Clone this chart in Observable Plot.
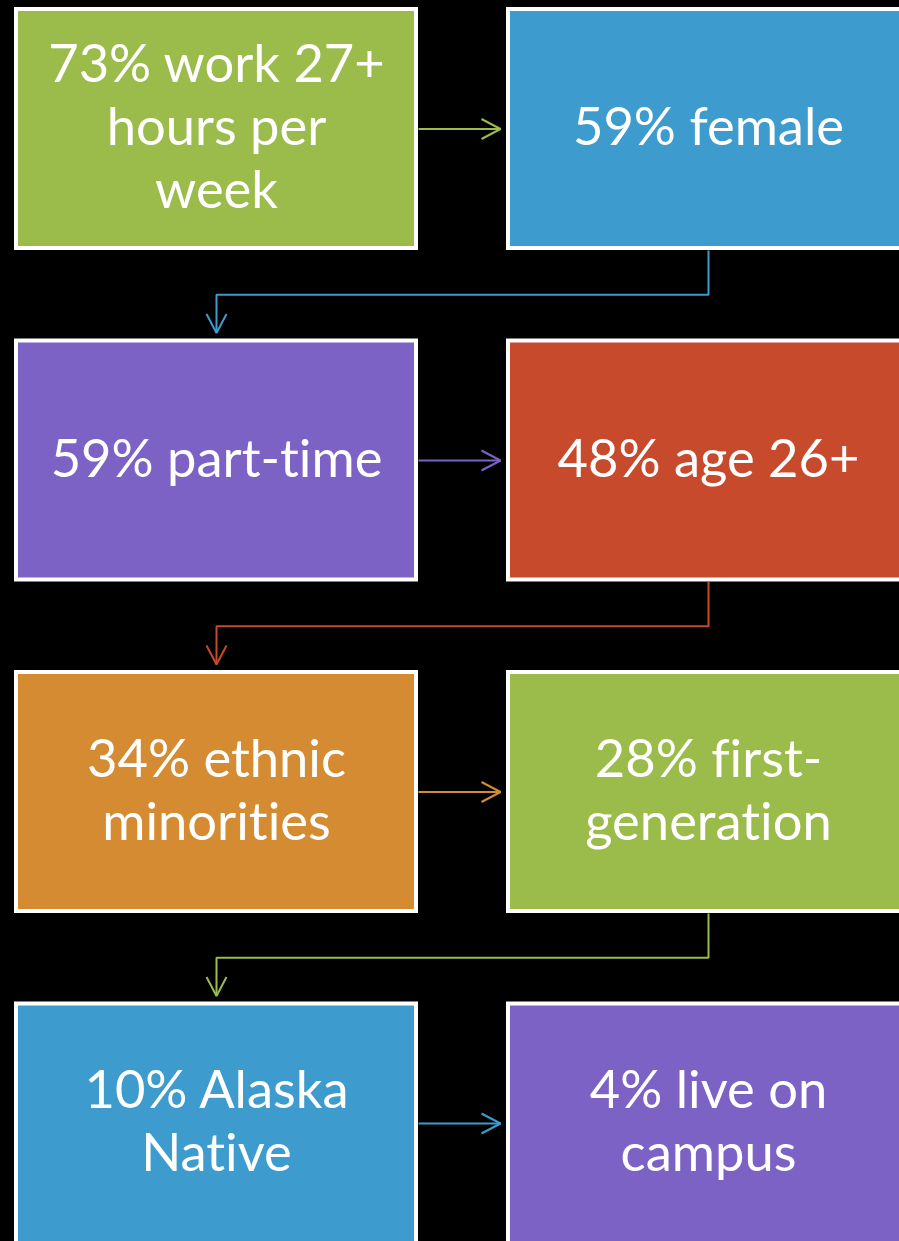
<!DOCTYPE html>
<html>
<head>
<meta charset="utf-8">
<script src="https://cdn.jsdelivr.net/npm/d3@7"></script>
<script src="https://cdn.jsdelivr.net/npm/@observablehq/plot@0.6"></script>
<style>
  html, body { margin: 0; padding: 0; background: #000; }
  #chart svg { display: block; }
  #chart text { font-variant-ligatures: none; font-feature-settings: "liga" 0, "clig" 0; }
</style>
</head>
<body>
<div id="chart"></div>
<script>
// ---- data ----
const labels = [
  "73% work 27+\nhours per\nweek",
  "59% female",
  "59% part-time",
  "48% age 26+",
  "34% ethnic\nminorities",
  "28% first-\ngeneration",
  "10% Alaska\nNative",
  "4% live on\ncampus"
];
// flow: each step leads to the next one
const flowFrom = [0, 1, 2, 3, 4, 5, 6];
const flowTo   = [1, 2, 3, 4, 5, 6, 7];

// ---- style / layout ----
const palette = ["#9bbb4b", "#3e9bcd", "#7c62c4", "#c84a2d", "#d58b31", "#9bbb4b", "#3e9bcd", "#7c62c4"];
const W = 899, H = 1241;
const colX = [14, 506];      // outer left edge of each column
const boxW = 404, boxH = 243;
const rowY0 = 7, rowStep = 331.5;
const gapEnd = 6, headLen = 19, headHalf = 10;

const boxes = labels.map((label, i) => {
  const row = Math.floor(i / 2), col = i % 2;
  const x1 = colX[col] + 2, x2 = colX[col] + boxW - 2;
  const y1 = rowY0 + row * rowStep + 2, y2 = rowY0 + row * rowStep + boxH - 2;
  return {label, row, col, x1, x2, y1, y2, cx: (x1 + x2) / 2, cy: (y1 + y2) / 2};
});

const pts = [];
flowFrom.forEach((a, k) => {
  const s = boxes[a], t = boxes[flowTo[k]];
  const id = k;
  if (s.row === t.row) {
    const xs = s.x2 + 2, xe = t.x1 - 2 - gapEnd, y = s.cy;
    pts.push({id, src: s.label, x: xs, y}, {id, src: s.label, x: xe, y});
    pts.push({id: id + "h", src: s.label, x: xe - headLen, y: y - headHalf},
             {id: id + "h", src: s.label, x: xe, y},
             {id: id + "h", src: s.label, x: xe - headLen, y: y + headHalf});
  } else {
    const ys = s.y2 + 2, ye = t.y1 - 2 - gapEnd, ym = (s.y2 + t.y1) / 2;
    pts.push({id, src: s.label, x: s.cx, y: ys}, {id, src: s.label, x: s.cx, y: ym},
             {id, src: s.label, x: t.cx, y: ym}, {id, src: s.label, x: t.cx, y: ye});
    pts.push({id: id + "h", src: s.label, x: t.cx - headHalf, y: ye - headLen},
             {id: id + "h", src: s.label, x: t.cx, y: ye},
             {id: id + "h", src: s.label, x: t.cx + headHalf, y: ye - headLen});
  }
});

const chart = Plot.plot({
  width: W,
  height: H,
  margin: 0,
  style: {background: "#000", overflow: "hidden"},
  x: {domain: [0, W], range: [0, W], axis: null},
  y: {domain: [0, H], range: [0, H], axis: null},
  color: {domain: labels, range: palette},
  marks: [
    Plot.line(pts, {x: "x", y: "y", z: "id", stroke: "src", strokeWidth: 2, strokeLinejoin: "miter", strokeLinecap: "butt"}),
    Plot.rect(boxes, {x1: "x1", x2: (d) => d.col === 1 ? d.x2 + 10 : d.x2, y1: "y1", y2: (d) => d.row === 3 ? d.y2 + 10 : d.y2,
      fill: "label", stroke: "white", strokeWidth: 4}),
    Plot.text(boxes, {x: "cx", y: "cy", text: "label", fill: "white", fontSize: 52.5, lineHeight: 1.2, dy: -4,
      fontFamily: "Lato, 'Noto Sans', sans-serif", textAnchor: "middle", lineAnchor: "middle"})
  ]
});
document.getElementById("chart").appendChild(chart);
</script>
</body>
</html>
